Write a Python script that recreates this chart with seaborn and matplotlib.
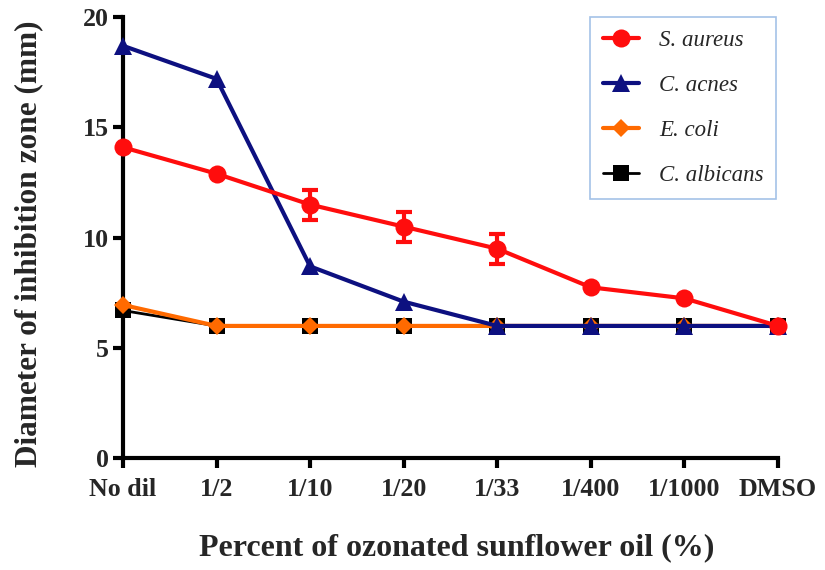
import matplotlib
matplotlib.use("Agg")
import matplotlib.pyplot as plt
import seaborn as sns
import pandas as pd
import numpy as np

# Dilution levels of ozonated sunflower oil
dilutions = ["No dil", "1/2", "1/10", "1/20", "1/33", "1/400", "1/1000", "DMSO"]

# Inhibition-zone diameters (mm)
s_aureus = [14.1, 12.9, 11.5, 10.5, 9.5, 7.75, 7.25, 6.0]
s_aureus_err = [0.0, 0.0, 0.68, 0.68, 0.68, 0.0, 0.0, 0.0]
c_acnes = [18.7, 17.2, 8.7, 7.1, 6.0, 6.0, 6.0, 6.0]
e_coli = [6.95, 6.0, 6.0, 6.0, 6.0, 6.0, 6.0, 6.0]
c_albicans = [6.7, 6.0, 6.0, 6.0, 6.0, 6.0, 6.0, 6.0]

series_names = ["S. aureus", "C. acnes", "E. coli", "C. albicans"]
series_values = [s_aureus, c_acnes, e_coli, c_albicans]

sns.set_theme(style="ticks")
plt.rcParams["font.family"] = ["Liberation Serif", "DejaVu Serif"]

rows = []
for name, vals in zip(series_names, series_values):
    for i, v in enumerate(vals):
        rows.append({"pos": i, "dilution": dilutions[i], "organism": name, "zone": v})
df = pd.DataFrame(rows)

styles = {
    "C. albicans": dict(color="#000000", marker="s", ms=12, lw=2.0, z=3),
    "E. coli": dict(color="#ff6a00", marker="D", ms=9.5, lw=3.0, z=4),
    "C. acnes": dict(color="#0d1080", marker="^", ms=12.5, lw=3.0, z=5),
    "S. aureus": dict(color="#ff0d0d", marker="o", ms=13, lw=3.0, z=6),
}

fig = plt.figure(figsize=(8.25, 5.7), dpi=100)
ax = fig.add_axes([0.149, 0.196, 0.794, 0.774])

for name in ["C. albicans", "E. coli", "C. acnes", "S. aureus"]:
    st = styles[name]
    sub = df[df["organism"] == name]
    sns.lineplot(data=sub, x="pos", y="zone", ax=ax, color=st["color"],
                 marker=st["marker"], markersize=st["ms"], linewidth=st["lw"],
                 markeredgecolor=st["color"], markeredgewidth=0,
                 zorder=st["z"], clip_on=False, label=name, legend=False)

# Error bars on S. aureus (only where they extend beyond the marker)
pos = np.arange(len(dilutions))
mask = np.array(s_aureus_err) > 0
ax.errorbar(pos[mask], np.array(s_aureus)[mask], yerr=np.array(s_aureus_err)[mask],
            fmt="none", ecolor=styles["S. aureus"]["color"], elinewidth=3,
            capsize=5.5, capthick=3, zorder=6, clip_on=False)

ax.set_xlim(0, 7)
ax.set_ylim(0, 20)
ax.set_xticks(range(len(dilutions)))
ax.set_xticklabels(dilutions)
ax.set_yticks([0, 5, 10, 15, 20])
sns.despine(ax=ax)
for sp in ["left", "bottom"]:
    ax.spines[sp].set_linewidth(3)
    ax.spines[sp].set_color("black")
ax.tick_params(axis="both", width=3, length=7, color="black",
               labelsize=18.7, pad=3)
ax.tick_params(axis="x", pad=7)
for lab in ax.get_xticklabels() + ax.get_yticklabels():
    lab.set_fontweight("bold")

ax.set_xlabel("Percent of ozonated sunflower oil (%)", fontsize=23,
              fontweight="bold")
ax.set_ylabel("Diameter of inhibition zone (mm)", fontsize=22.5,
              fontweight="bold")
ax.xaxis.set_label_coords(0.509, -0.17)
ax.yaxis.set_label_coords(-0.121, 0.486)

handles, labels = ax.get_legend_handles_labels()
order = [labels.index(n) for n in series_names]
leg = ax.legend([handles[i] for i in order], [labels[i] for i in order],
                loc="upper right", bbox_to_anchor=(0.9406, 0.97),
                bbox_transform=fig.transFigure,
                prop={"family": "Liberation Serif", "style": "italic", "size": 16.5},
                frameon=True, fancybox=False, handlelength=1.6,
                labelspacing=1.05, borderpad=0.55, handletextpad=0.85,
                borderaxespad=0)
leg.get_frame().set_edgecolor("#8db3e2")
leg.get_frame().set_linewidth(1.2)

fig.savefig("out.png", dpi=100)
